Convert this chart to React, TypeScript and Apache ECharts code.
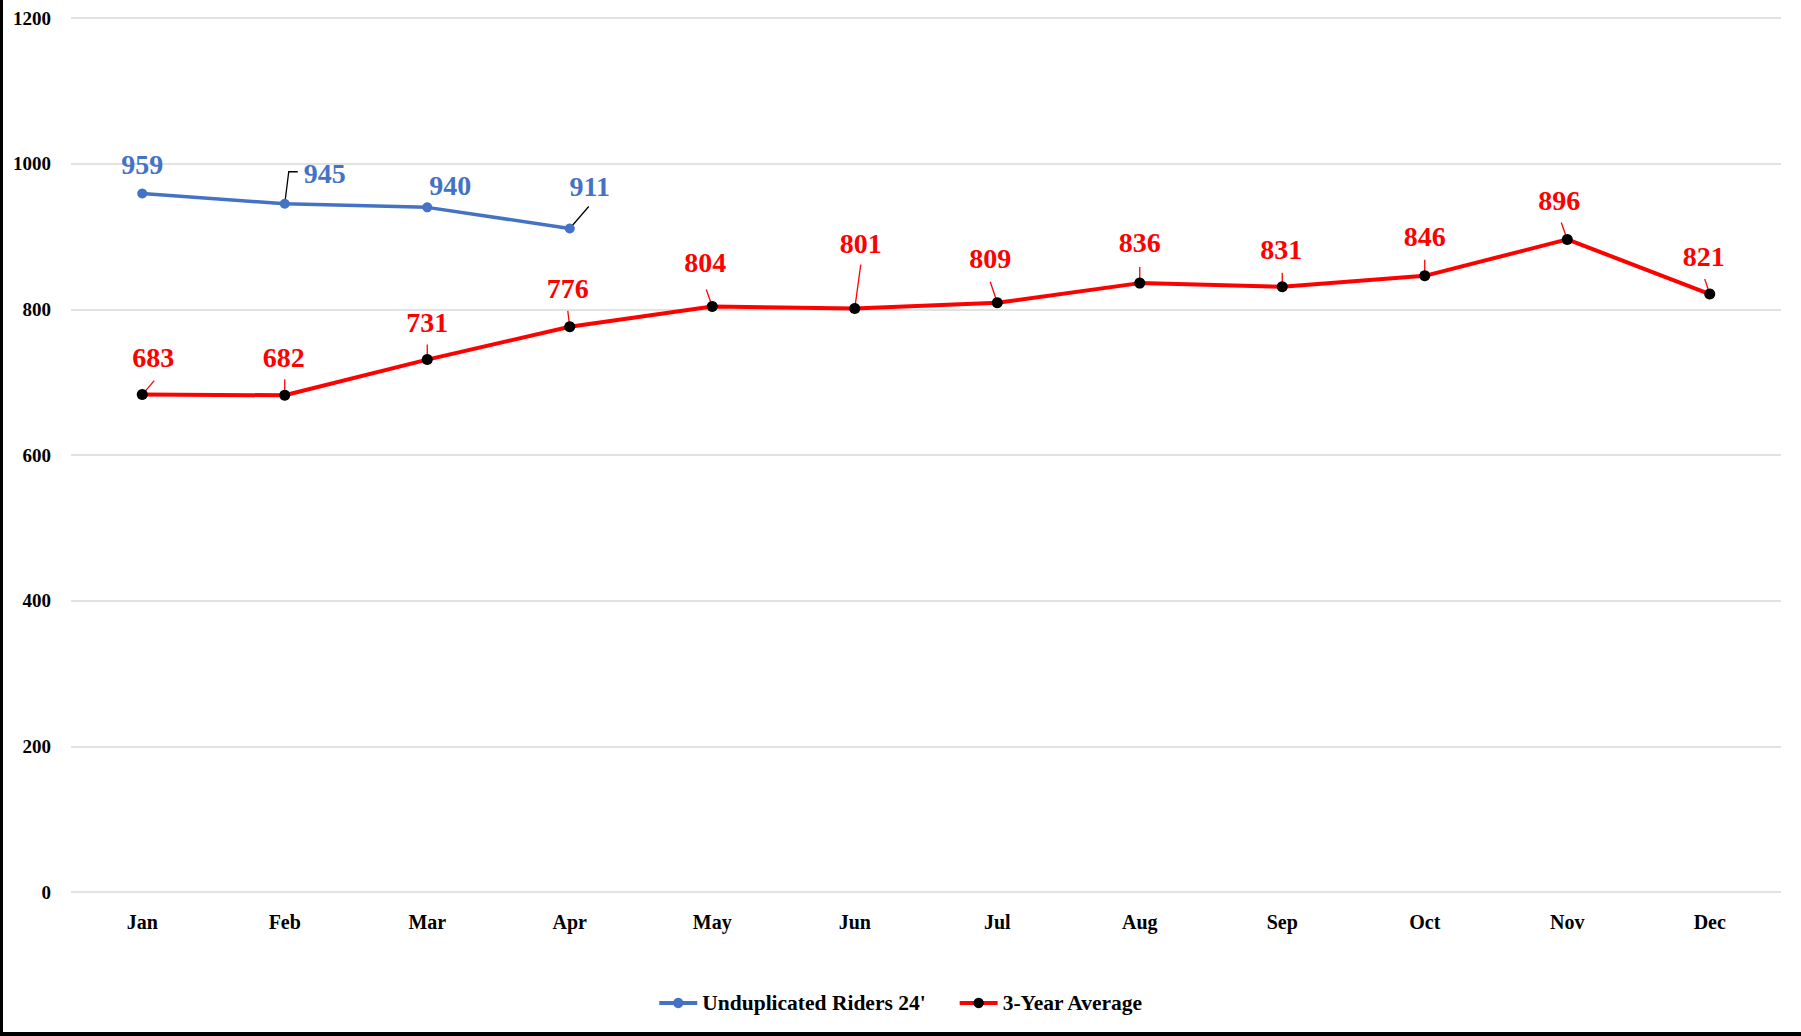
import React, { useEffect, useRef } from "react";
import * as echarts from "echarts";

const months = ["Jan", "Feb", "Mar", "Apr", "May", "Jun", "Jul", "Aug", "Sep", "Oct", "Nov", "Dec"];
const riders24 = [959, 945, 940, 911];
const threeYearAvg = [683, 682, 731, 776, 804, 801, 809, 836, 831, 846, 896, 821];
const yMin = 0;
const yMax = 1200;
const yStep = 200;

// label placement (styling only): [dx, dy] from the point
const riderLabelOffsets = [[0, -29], [40, -30], [23, -22], [20, -42]];
const avgLabelOffsets = [[11, -37], [-1, -38], [0, -37], [-2, -38], [-7, -44], [6, -65], [-7, -44], [0, -41], [-1, -37], [0, -39], [-8, -39], [-6, -38]];

// leader lines (styling only): list of [dx, dy] vertices relative to the point, null = none
const riderLeaders: (number[][] | null)[] = [null, [[4, -32], [13, -32]], null, [[19, -22]]];
const avgLeaders: (number[][] | null)[] = [
  [[12, -14]], [[0, -16]], [[0, -15]], [[-2, -16]], [[-6, -17]], [[6, -44]],
  [[-7, -21]], [[0, -16]], [[0, -14]], [[0, -16]], [[-6, -17]], [[-5, -15]],
];

const FONT = "'Liberation Serif', 'DejaVu Serif', serif";

function leaderSeries(values: number[], leaders: (number[][] | null)[], color: string) {
  return {
    type: "custom",
    silent: true,
    z: 1,
    data: values.map((v, i) => [i, v]),
    renderItem: (params: any, api: any) => {
      const idx = params.dataIndex;
      const pts = leaders[idx];
      if (!pts) return null;
      const p = api.coord([api.value(0), api.value(1)]);
      const points = [p, ...pts.map((d) => [p[0] + d[0], p[1] + d[1]])];
      return {
        type: "polyline",
        shape: { points },
        style: { stroke: color, lineWidth: 1.3, fill: "none" },
      };
    },
  };
}

export default function App() {
  const ref = useRef<HTMLDivElement>(null);
  useEffect(() => {
    if (!ref.current) return;
    const chart = echarts.init(ref.current, null, { renderer: "svg" });
    const riderData = riders24.map((v, i) => ({
      value: v,
      label: { offset: riderLabelOffsets[i] },
    }));
    const avgData = threeYearAvg.map((v, i) => ({
      value: v,
      label: { offset: avgLabelOffsets[i] },
    }));
    chart.setOption({
      animation: false,
      backgroundColor: "#fff",
      textStyle: { fontFamily: FONT },
      grid: { left: 71, right: 20, top: 18, bottom: 144, containLabel: false },
      xAxis: {
        type: "category",
        data: months,
        boundaryGap: true,
        axisLine: { show: false },
        axisTick: { show: false },
        axisLabel: { color: "#000", fontSize: 20, fontWeight: "bold", fontFamily: FONT, margin: 20 },
      },
      yAxis: {
        type: "value",
        min: yMin,
        max: yMax,
        interval: yStep,
        axisLine: { show: false },
        axisTick: { show: false },
        axisLabel: {
          color: "#000",
          fontSize: 19,
          fontWeight: "bold",
          fontFamily: FONT,
          margin: 20,
          formatter: (v: number) => String(v),
        },
        splitLine: { lineStyle: { color: "#d9d9d9", width: 1.5 } },
      },
      legend: {
        left: "center",
        top: 987,
        itemWidth: 38,
        itemHeight: 13,
        itemGap: 32,
        lineStyle: { width: 4 },
        textStyle: { color: "#000", fontSize: 21.5, fontWeight: "bold", fontFamily: FONT },
        data: ["Unduplicated Riders 24'", "3-Year Average"],
      },
      graphic: [
        { type: "rect", left: 0, top: 0, shape: { width: 3, height: 1036 }, style: { fill: "#000" } },
        { type: "rect", left: 0, top: 1032, shape: { width: 1801, height: 4 }, style: { fill: "#000" } },
      ],
      series: [
        {
          name: "Unduplicated Riders 24'",
          type: "line",
          data: riderData,
          symbol: "circle",
          symbolSize: 10,
          showAllSymbol: true,
          itemStyle: { color: "#4472C4" },
          lineStyle: { color: "#4472C4", width: 3.5 },
          label: {
            show: true,
            position: "inside",
            color: "#4472C4",
            fontSize: 28,
            fontWeight: "bold",
            fontFamily: FONT,
          },
          z: 3,
        },
        {
          name: "3-Year Average",
          type: "line",
          data: avgData,
          symbol: "circle",
          symbolSize: 11,
          showAllSymbol: true,
          itemStyle: { color: "#000" },
          lineStyle: { color: "#ff0000", width: 4 },
          label: {
            show: true,
            position: "inside",
            color: "#ff0000",
            fontSize: 28,
            fontWeight: "bold",
            fontFamily: FONT,
          },
          z: 2,
        },
        leaderSeries(riders24, riderLeaders, "#000"),
        leaderSeries(threeYearAvg, avgLeaders, "#ff0000"),
      ],
    });
    return () => chart.dispose();
  }, []);
  return (
    <div
      ref={ref}
      style={{ position: "fixed", left: 0, top: 0, width: 1801, height: 1036, background: "#fff" }}
    />
  );
}
